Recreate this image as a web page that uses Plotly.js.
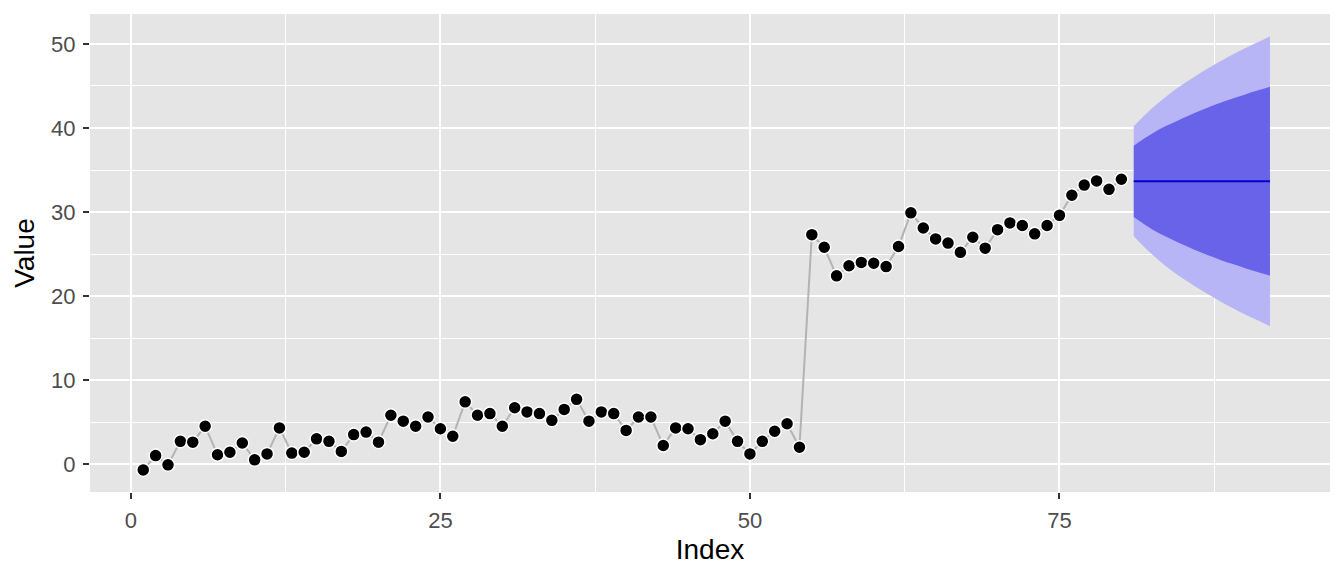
<!DOCTYPE html>
<html>
<head>
<meta charset="utf-8">
<script src="https://cdn.plot.ly/plotly-3.0.1.min.js"></script>
<style>body{margin:0;padding:0;background:#fff;} #chart{width:1344px;height:576px;}</style>
</head>
<body>
<div id="chart"></div>
<script>
const values = [-0.7, 1.0, -0.1, 2.7, 2.6, 4.5, 1.1, 1.4, 2.5, 0.5,
  1.2, 4.3, 1.3, 1.4, 3.0, 2.7, 1.5, 3.5, 3.8, 2.6,
  5.8, 5.1, 4.5, 5.6, 4.2, 3.3, 7.4, 5.8, 6.0, 4.5,
  6.7, 6.2, 6.0, 5.2, 6.5, 7.7, 5.1, 6.2, 6.0, 4.0,
  5.6, 5.6, 2.2, 4.3, 4.2, 2.9, 3.6, 5.1, 2.7, 1.2,
  2.7, 3.9, 4.8, 2.0, 27.3, 25.8, 22.4, 23.6, 24.0, 23.9,
  23.5, 25.9, 29.9, 28.1, 26.8, 26.3, 25.2, 27.0, 25.7, 27.9,
  28.7, 28.4, 27.4, 28.4, 29.6, 32.0, 33.2, 33.7, 32.7, 33.9];
const index = values.map((v, i) => i + 1);

const fcIndex = [81, 82, 83, 84, 85, 86, 87, 88, 89, 90, 91, 92];
const fcMean = [33.65, 33.65, 33.65, 33.65, 33.65, 33.65, 33.65, 33.65, 33.65, 33.65, 33.65, 33.65];
const hi80 = [37.9, 38.9, 39.8, 40.5, 41.2, 41.85, 42.45, 43.0, 43.5, 44.0, 44.45, 44.9];
const lo80 = [29.4, 28.4, 27.5, 26.8, 26.1, 25.45, 24.85, 24.3, 23.8, 23.3, 22.85, 22.4];
const hi95 = [40.2, 41.7, 43.0, 44.2, 45.25, 46.2, 47.1, 47.95, 48.75, 49.5, 50.2, 50.9];
const lo95 = [27.1, 25.6, 24.3, 23.1, 22.05, 21.1, 20.2, 19.35, 18.55, 17.8, 17.1, 16.4];

const xTicks = [0, 25, 50, 75];
const yTicks = [0, 10, 20, 30, 40, 50];

const edge = {width: 0, shape: 'spline', smoothing: 1};
const traces = [
  {x: fcIndex, y: lo95, mode: 'lines', line: edge, hoverinfo: 'skip', showlegend: false},
  {x: fcIndex, y: hi95, mode: 'lines', line: edge, fill: 'tonexty', fillcolor: '#B7B5F5', showlegend: false},
  {x: fcIndex, y: lo80, mode: 'lines', line: edge, hoverinfo: 'skip', showlegend: false},
  {x: fcIndex, y: hi80, mode: 'lines', line: edge, fill: 'tonexty', fillcolor: '#6963E9', showlegend: false},
  {x: fcIndex, y: fcMean, mode: 'lines', line: {color: '#0000CC', width: 2}, showlegend: false},
  {x: index, y: values, mode: 'lines', line: {color: '#B3B3B3', width: 2}, showlegend: false},
  {x: index, y: values, mode: 'markers', marker: {color: '#000000', size: 13, line: {color: '#FFFFFF', width: 1.5}}, showlegend: false}
];

const fontFam = 'Liberation Sans, Arial, sans-serif';
const axisCommon = {
  showline: false, zeroline: false, gridcolor: '#FFFFFF', gridwidth: 2,
  ticks: 'outside', ticklen: 6, tickwidth: 2, tickcolor: '#333333',
  ticklabelstandoff: 3,
  tickfont: {family: fontFam, size: 22, color: '#4D4D4D'}
};

const layout = {
  width: 1344, height: 576,
  margin: {l: 90, r: 14, t: 14, b: 84},
  paper_bgcolor: '#FFFFFF', plot_bgcolor: '#E5E5E5',
  xaxis: Object.assign({}, axisCommon, {
    range: [-3.3, 96.85], tickvals: xTicks, ticktext: xTicks.map(String),
    minor: {showgrid: true, gridcolor: '#FFFFFF', gridwidth: 1, ticks: '', tickvals: [12.5, 37.5, 62.5, 87.5]},
    title: {text: 'Index', font: {family: fontFam, size: 28, color: '#000000'}, standoff: 6}
  }),
  yaxis: Object.assign({}, axisCommon, {
    range: [-3.33, 53.57], tickvals: yTicks, ticktext: yTicks.map(String),
    minor: {showgrid: true, gridcolor: '#FFFFFF', gridwidth: 1, ticks: '', tickvals: [5, 15, 25, 35, 45]},
    title: {text: 'Value', font: {family: fontFam, size: 28, color: '#000000'}, standoff: 8}
  })
};

Plotly.newPlot('chart', traces, layout, {displayModeBar: false, staticPlot: true});
</script>
</body>
</html>
